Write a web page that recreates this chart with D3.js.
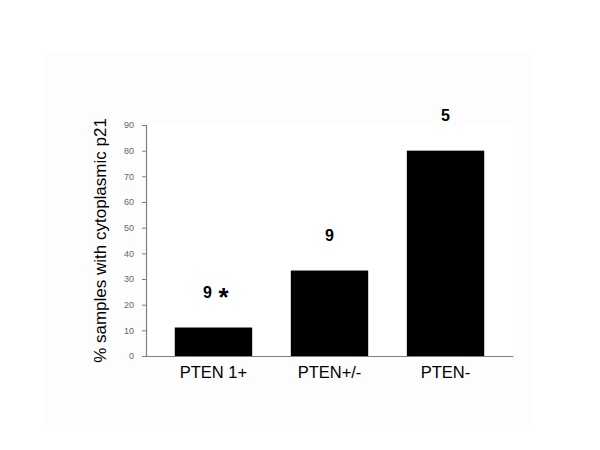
<!DOCTYPE html>
<html>
<head>
<meta charset="utf-8">
<script src="https://cdn.jsdelivr.net/npm/d3@7"></script>
<style>
  body { margin: 0; background: #fff; }
  svg { display: block; font-family: "Liberation Sans", Arial, sans-serif; }
</style>
</head>
<body>
<svg id="chart" width="600" height="450"></svg>
<script>
// chart data
const categories = ['PTEN 1+', 'PTEN+/-', 'PTEN-']
const values = [11.1, 33.3, 80]
const barLabels = ['9', '9', '5']
const yTicks = [0, 10, 20, 30, 40, 50, 60, 70, 80, 90]
const yTitle = '% samples with cytoplasmic p21'

const svg = d3.select('#chart')
const margin = {top: 125, right: 87, bottom: 94, left: 146}
const width = 600 - margin.left - margin.right
const height = 450 - margin.top - margin.bottom

// faint off-white chart area behind the plot
svg.append('rect')
  .attr('x', 45).attr('y', 52)
  .attr('width', 488).attr('height', 378)
  .attr('fill', '#fdfdfd')

const g = svg.append('g').attr('transform', 'translate(' + margin.left + ',' + margin.top + ')')

g.append('rect')
  .attr('width', width).attr('height', height)
  .attr('fill', '#fff')

const x = d3.scaleBand()
  .domain(categories)
  .range([0, width])
  .paddingInner(0.333)
  .paddingOuter(0.248)

const y = d3.scaleLinear()
  .domain([0, 90])
  .range([height, 0])

// bars
g.selectAll('rect.bar')
  .data(values)
  .enter().append('rect')
  .attr('class', 'bar')
  .attr('x', (d, i) => x(categories[i]))
  .attr('y', d => y(d))
  .attr('width', x.bandwidth())
  .attr('height', d => y(0) - y(d))
  .attr('fill', '#000')

// n labels above bars
g.selectAll('text.nlab')
  .data(values)
  .enter().append('text')
  .attr('class', 'nlab')
  .attr('x', (d, i) => x(categories[i]) + x.bandwidth() / 2 + (i === 0 ? -6 : 0))
  .attr('y', d => y(d) - 30)
  .attr('text-anchor', 'middle')
  .attr('font-size', 16)
  .attr('font-weight', 'bold')
  .attr('fill', '#000')
  .text((d, i) => barLabels[i])

// significance star next to first label
g.append('text')
  .attr('x', x(categories[0]) + x.bandwidth() / 2 + 10)
  .attr('y', y(values[0]) - 22)
  .attr('text-anchor', 'middle')
  .attr('font-size', 26)
  .attr('font-weight', 'bold')
  .attr('fill', '#000')
  .text('*')

// y axis
const yAxis = g.append('g')
  .call(d3.axisLeft(y).tickValues(yTicks).tickSize(4).tickPadding(8))
yAxis.select('.domain').attr('stroke', '#808080').attr('stroke-width', 1.2)
yAxis.selectAll('.tick line').attr('stroke', '#808080')
yAxis.selectAll('.tick text').attr('fill', '#666').attr('font-size', 9)
  .style('font-family', '"Liberation Sans", Arial, sans-serif')

// x axis
const xAxis = g.append('g')
  .attr('transform', 'translate(0,' + height + ')')
  .call(d3.axisBottom(x).tickSize(0).tickPadding(10))
xAxis.select('.domain').attr('stroke', '#808080').attr('stroke-width', 1.2)
xAxis.selectAll('.tick text').attr('fill', '#000').attr('font-size', 16.5)
  .style('font-family', '"Liberation Sans", Arial, sans-serif')

// y title
svg.append('text')
  .attr('transform', 'translate(106,' + (margin.top + height / 2) + ') rotate(-90)')
  .attr('text-anchor', 'middle')
  .attr('font-size', 17)
  .attr('fill', '#000')
  .text(yTitle)
</script>
</body>
</html>
